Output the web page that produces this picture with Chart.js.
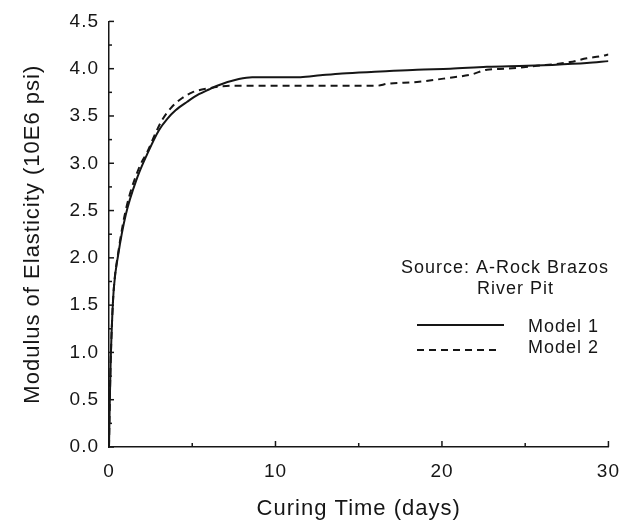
<!DOCTYPE html>
<html>
<head>
<meta charset="utf-8">
<script src="https://cdn.jsdelivr.net/npm/chart.js@4.4.0/dist/chart.umd.min.js"></script>
<style>
  html, body { margin: 0; padding: 0; background: #fff; }
  #wrap { width: 632px; height: 524px; }
</style>
</head>
<body>
<div id="wrap"><canvas id="chart-canvas"></canvas></div>
<script>
// Curing time (days) and modulus (10E6 psi)
const model1Days = [0, 0.05, 0.1, 0.2, 0.3, 0.55, 1.0, 1.7, 2.3, 3.0, 3.5, 4.0, 4.7, 5.4, 6.0, 6.5, 7.8, 8.6, 11.5, 12.7, 14.0, 16.3, 18.5, 20.5, 22.7, 25.1, 26.6, 28.7, 30];
const model1Values = [0, 0.5, 0.9, 1.4, 1.7, 2.03, 2.45, 2.85, 3.1, 3.35, 3.47, 3.56, 3.65, 3.73, 3.78, 3.82, 3.89, 3.91, 3.91, 3.93, 3.95, 3.97, 3.99, 4.0, 4.02, 4.03, 4.04, 4.06, 4.08];

const model2Days = [0, 0.05, 0.1, 0.2, 0.3, 0.55, 1.0, 1.8, 2.3, 2.8, 3.2, 3.8, 4.4, 5.0, 5.9, 7.4, 12.7, 16.1, 16.7, 18.5, 20.3, 21.8, 22.7, 23.9, 25.7, 27.7, 28.7, 29.5, 30];
const model2Values = [0, 0.5, 0.9, 1.4, 1.7, 2.05, 2.5, 2.95, 3.12, 3.32, 3.46, 3.6, 3.69, 3.75, 3.79, 3.82, 3.82, 3.82, 3.84, 3.86, 3.9, 3.94, 3.99, 4.0, 4.03, 4.07, 4.11, 4.13, 4.15];

const xMajorTicks = [0, 10, 20, 30];
const xMinorTicks = [5, 15, 25];
const yMajorTicks = [0, 0.5, 1.0, 1.5, 2.0, 2.5, 3.0, 3.5, 4.0, 4.5];
const yMinorTicks = [0.25, 0.75, 1.25, 1.75, 2.25, 2.75, 3.25, 3.75, 4.25];

const ink = '#161616';
const fontFamily = 'Arial, "Liberation Sans", Helvetica, sans-serif';

function toPoints(xs, ys) {
  return xs.map((x, i) => ({ x: x, y: ys[i] }));
}

// the scanned lettering is loosely spaced
const spacing = {
  id: 'spacing',
  beforeDraw(chart) {
    chart.ctx.letterSpacing = '1px';
  }
};

// inward tick marks plus the source note and hand-made legend
const annotations = {
  id: 'annotations',
  afterDraw(chart) {
    const ctx = chart.ctx;
    const xs = chart.scales.x;
    const ys = chart.scales.y;
    const area = chart.chartArea;
    ctx.save();
    ctx.strokeStyle = ink;
    ctx.lineWidth = 1.5;
    xMajorTicks.forEach(v => {
      const px = xs.getPixelForValue(v);
      ctx.beginPath(); ctx.moveTo(px, area.bottom); ctx.lineTo(px, area.bottom - 6); ctx.stroke();
    });
    xMinorTicks.forEach(v => {
      const px = xs.getPixelForValue(v);
      ctx.beginPath(); ctx.moveTo(px, area.bottom); ctx.lineTo(px, area.bottom - 4); ctx.stroke();
    });
    yMajorTicks.forEach(v => {
      const py = ys.getPixelForValue(v);
      ctx.beginPath(); ctx.moveTo(area.left, py); ctx.lineTo(area.left + 5, py); ctx.stroke();
    });
    yMinorTicks.forEach(v => {
      const py = ys.getPixelForValue(v);
      ctx.beginPath(); ctx.moveTo(area.left, py); ctx.lineTo(area.left + 3, py); ctx.stroke();
    });

    // note text
    ctx.fillStyle = ink;
    ctx.font = '18px ' + fontFamily;
    ctx.letterSpacing = '1px';
    ctx.textBaseline = 'middle';
    ctx.textAlign = 'left';
    ctx.fillText('Source: A-Rock Brazos', 401, 268);
    ctx.fillText('River Pit', 477, 289);
    ctx.fillText('Model 1', 528, 327);
    ctx.fillText('Model 2', 528, 348);

    // legend samples
    ctx.lineWidth = 2;
    ctx.beginPath(); ctx.moveTo(417, 325); ctx.lineTo(504, 325); ctx.stroke();
    ctx.setLineDash([7, 5]);
    ctx.beginPath(); ctx.moveTo(417, 350); ctx.lineTo(498, 350); ctx.stroke();
    ctx.restore();
  }
};

const ctx = document.getElementById('chart-canvas').getContext('2d');
new Chart(ctx, {
  type: 'scatter',
  data: {
    datasets: [
      {
        label: 'Model 1',
        data: toPoints(model1Days, model1Values),
        showLine: true,
        borderColor: ink,
        borderWidth: 2,
        pointRadius: 0,
        cubicInterpolationMode: 'monotone'
      },
      {
        label: 'Model 2',
        data: toPoints(model2Days, model2Values),
        showLine: true,
        borderColor: ink,
        borderWidth: 2,
        borderDash: [7, 5],
        pointRadius: 0,
        cubicInterpolationMode: 'monotone'
      }
    ]
  },
  options: {
    responsive: true,
    maintainAspectRatio: false,
    animation: false,
    layout: { padding: { top: 17, right: 23, left: 0, bottom: 0 } },
    plugins: {
      legend: { display: false },
      tooltip: { enabled: false }
    },
    scales: {
      x: {
        type: 'linear',
        min: 0,
        max: 30,
        afterFit(scale) { scale.height = 77; },
        afterBuildTicks(scale) { scale.ticks = xMajorTicks.map(v => ({ value: v })); },
        grid: { display: false, drawTicks: false },
        border: { display: true, color: ink, width: 1.5 },
        ticks: {
          color: ink,
          padding: 13,
          font: { family: fontFamily, size: 19 },
          callback: v => String(v)
        },
        title: {
          display: true,
          text: 'Curing Time (days)',
          color: ink,
          font: { family: fontFamily, size: 22 },
          padding: { top: 0, bottom: 2 }
        }
      },
      y: {
        type: 'linear',
        min: 0,
        max: 4.5,
        afterFit(scale) { scale.width = 109; },
        afterBuildTicks(scale) { scale.ticks = yMajorTicks.map(v => ({ value: v })); },
        grid: { display: false, drawTicks: false },
        border: { display: true, color: ink, width: 1.5 },
        ticks: {
          color: ink,
          padding: 10,
          font: { family: fontFamily, size: 19 },
          callback: v => Number(v).toFixed(1)
        },
        title: {
          display: true,
          text: 'Modulus of Elasticity (10E6 psi)',
          color: ink,
          font: { family: fontFamily, size: 22 },
          padding: { top: 20, bottom: 0 }
        }
      }
    }
  },
  plugins: [spacing, annotations]
});
</script>
</body>
</html>
